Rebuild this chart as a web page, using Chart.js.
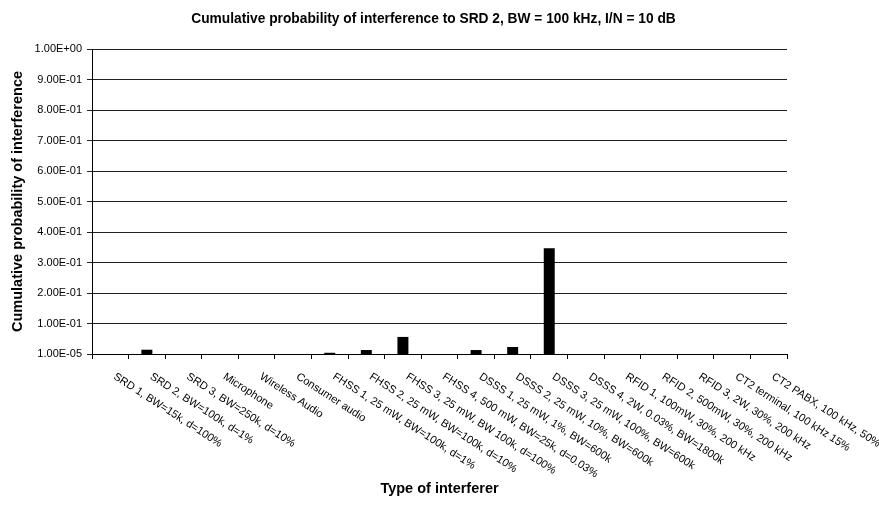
<!DOCTYPE html>
<html>
<head>
<meta charset="utf-8">
<script src="https://cdn.jsdelivr.net/npm/chart.js@4/dist/chart.umd.min.js"></script>
<style>
  html, body { margin: 0; padding: 0; background: #fff; }
  #wrap { width: 879px; height: 523px; }
</style>
</head>
<body>
<div id="wrap"><canvas id="chart"></canvas></div>
<script>
const categories = [
    'SRD 1, BW=15k, d=100%',
    'SRD 2, BW=100k, d=1%',
    'SRD 3, BW=250k, d=10%',
    'Microphone',
    'Wireless Audio',
    'Consumer audio',
    'FHSS 1, 25 mW, BW=100k, d=1%',
    'FHSS 2, 25 mW, BW=100k, d=10%',
    'FHSS 3, 25 mW, BW 100k, d=100%',
    'FHSS 4, 500 mW, BW=25k, d=0.03%',
    'DSSS 1, 25 mW, 1%, BW=600k',
    'DSSS 2, 25 mW, 10%, BW=600k',
    'DSSS 3, 25 mW, 100%, BW=600k',
    'DSSS 4, 2W, 0.03%, BW=1800k',
    'RFID 1, 100mW, 30%, 200 kHz',
    'RFID 2, 500mW, 30%, 200 kHz',
    'RFID 3, 2W, 30%, 200 kHz',
    'CT2 terminal, 100 kHz 15%',
    'CT2 PABX, 100 kHz, 50%'
];
const probability = [0, 0.014, 0, 0, 0, 0, 0.004, 0.013, 0.056, 0, 0.013, 0.023, 0.347, 0, 0, 0, 0, 0, 0];
const yTicks = [0.00001, 0.1, 0.2, 0.3, 0.4, 0.5, 0.6, 0.7, 0.8, 0.9, 1.0];

// Excel-like scientific format: 1.00E-01
function sci(v) {
    const parts = v.toExponential(2).toUpperCase().split('E');
    let exp = parseInt(parts[1], 10);
    const sign = exp < 0 ? '-' : '+';
    exp = Math.abs(exp);
    return parts[0] + 'E' + sign + (exp < 10 ? '0' : '') + exp;
}

const FONT = "'Liberation Sans', Arial, sans-serif";

// draws the slanted category labels (going down to the right)
const slantLabels = {
    id: 'slantLabels',
    afterDraw(chart) {
        const ctx = chart.ctx;
        const x = chart.scales.x;
        const top = chart.chartArea.bottom;
        ctx.save();
        ctx.font = '11px ' + FONT;
        ctx.fillStyle = '#000';
        ctx.textAlign = 'left';
        ctx.textBaseline = 'top';
        categories.forEach((label, i) => {
            const px = x.getPixelForValue(i);
            ctx.save();
            ctx.translate(px + 7, top + 17);
            ctx.rotate(33 * Math.PI / 180);
            ctx.fillText(label, 0, 0);
            ctx.restore();
        });
        ctx.restore();
    }
};

new Chart(document.getElementById('chart'), {
    type: 'bar',
    data: {
        labels: categories,
        datasets: [{
            data: probability,
            backgroundColor: '#000',
            borderWidth: 0,
            barPercentage: 0.3,
            categoryPercentage: 1.0
        }]
    },
    options: {
        responsive: true,
        maintainAspectRatio: false,
        animation: false,
        layout: { padding: { left: 0, right: 12, top: 0, bottom: 0 } },
        plugins: {
            legend: { display: false },
            tooltip: { enabled: false },
            title: {
                display: true,
                text: 'Cumulative probability of interference to SRD 2, BW = 100 kHz, I/N = 10 dB',
                color: '#000',
                font: { family: FONT, size: 13.75, weight: 'bold' },
                padding: { top: 11, bottom: 21.5 }
            }
        },
        scales: {
            x: {
                grid: {
                    offset: true,
                    drawOnChartArea: false,
                    drawTicks: true,
                    tickLength: 5,
                    color: '#000'
                },
                border: { color: '#000' },
                ticks: { display: false },
                title: {
                    display: true,
                    text: 'Type of interferer',
                    color: '#000',
                    font: { family: FONT, size: 14.5, weight: 'bold' },
                    padding: { top: 0, bottom: 25 }
                },
                afterFit(scale) { scale.height = 169; }
            },
            y: {
                min: 0.00001,
                max: 1,
                afterBuildTicks(scale) {
                    scale.ticks = yTicks.map(v => ({ value: v }));
                },
                grid: {
                    color: '#222',
                    lineWidth: 1,
                    tickLength: 5
                },
                border: { color: '#000' },
                ticks: {
                    color: '#000',
                    font: { family: FONT, size: 11 },
                    padding: 5,
                    autoSkip: false,
                    callback: v => sci(v)
                },
                title: {
                    display: true,
                    text: 'Cumulative probability of interference',
                    color: '#000',
                    font: { family: FONT, size: 14.5, weight: 'bold' },
                    padding: { top: 9, bottom: 0 }
                },
                afterFit(scale) { scale.width = 92; }
            },
            // empty right-hand spacer so the title centres like the original
            spacer: {
                type: 'linear',
                position: 'right',
                display: true,
                grid: { display: false },
                border: { display: false },
                ticks: { display: false },
                afterFit(scale) { scale.width = 80; }
            }
        }
    },
    plugins: [slantLabels]
});
</script>
</body>
</html>
